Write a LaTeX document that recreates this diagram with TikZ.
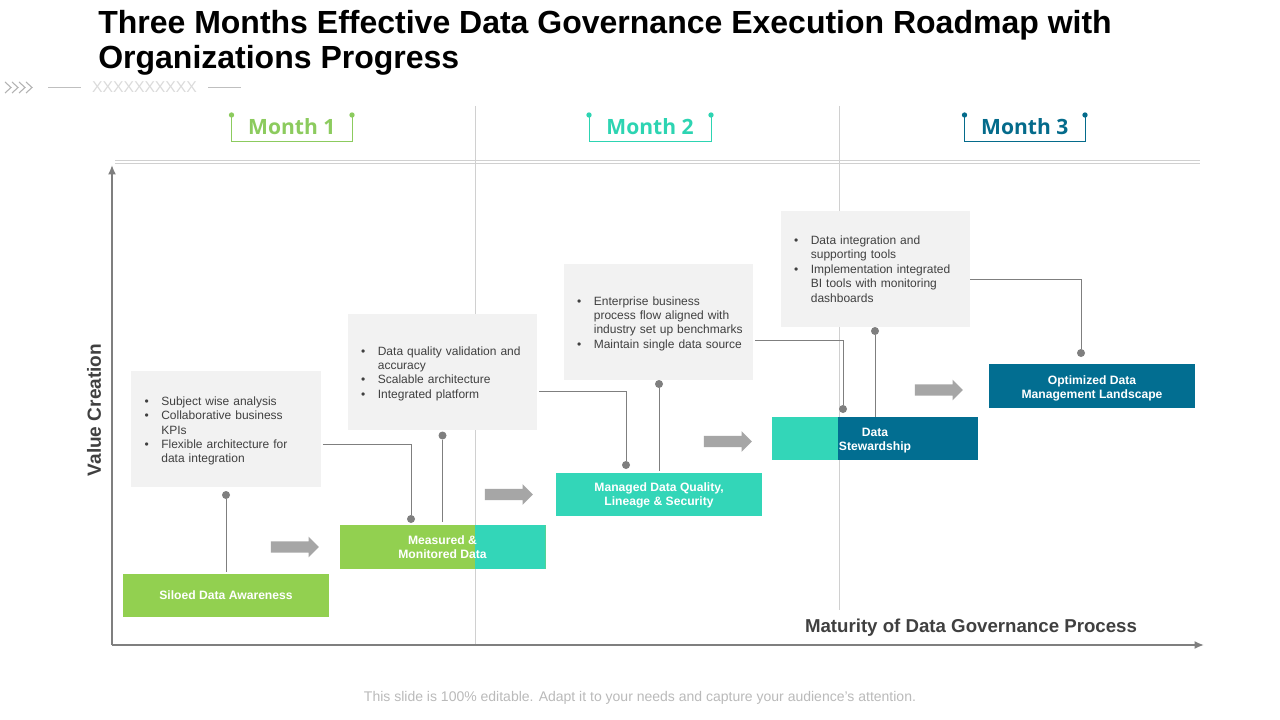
\documentclass[tikz,border=0pt]{standalone}
\usepackage{fontspec}
\setmainfont{Liberation Sans}
\newfontfamily\monthfont{Open Sans}
\usetikzlibrary{shapes.arrows,arrows.meta}
\definecolor{cgreen}{HTML}{92D050}
\definecolor{cteal}{HTML}{33D6B8}
\definecolor{cblue}{HTML}{026E91}
\definecolor{mgreen}{HTML}{8CCB5E}
\definecolor{mteal}{HTML}{2DD4B2}
\definecolor{mblue}{HTML}{046B8B}
\definecolor{axisc}{HTML}{7F7F7F}
\definecolor{gridc}{HTML}{D0D0D0}
\definecolor{panelc}{HTML}{F2F2F2}
\definecolor{txt}{HTML}{404040}
\newcommand\bl[1]{\mbox{\makebox[12.5pt][l]{•}#1}}
\newcommand\cl[1]{\mbox{\hspace*{12.5pt}#1}}
\newcommand\tp{\rule{0pt}{9pt}}
\tikzset{
  x=0.75pt,y=-0.75pt,
  panel/.style={fill=panelc,minimum width=142pt,minimum height=87pt,inner sep=0pt,text width=122pt,
    text=txt,font=\fontsize{9}{10.8}\selectfont,align=left},
  bar/.style={minimum width=154.5pt,minimum height=32.6pt,inner sep=0pt,text=white,
    font=\bfseries\fontsize{9.1}{10.6}\selectfont,align=center},
  dotn/.style={circle,fill=axisc,draw=none,minimum size=6pt,inner sep=0pt},
  conn/.style={draw=axisc,line width=0.75pt},
  grid line/.style={draw=gridc,line width=0.6pt},
  flow/.style={single arrow,fill=black!35,draw=none,minimum height=36pt,inner xsep=0pt,inner ysep=4.1pt,
    single arrow head extend=3.4pt,single arrow head indent=0pt},
  monthlabel/.style={font=\monthfont\bfseries\fontsize{15.8}{18}\selectfont,inner sep=0pt},
  axis/.style={draw=axisc,line width=1.9pt},
}
\begin{document}
\begin{tikzpicture}
\useasboundingbox (0,0) rectangle (1280,720);
\fill[white] (0,0) rectangle (1280,720);
% title
\node[anchor=north west,inner sep=0pt,align=left,font=\bfseries\fontsize{24}{26.3}\selectfont] (title) at (98,10)
  {Three Months Effective Data Governance Execution Roadmap with\\Organizations Progress};
% decor
\foreach \i in {0,1,2,3} \draw[black!30,line width=0.8pt] (5+7*\i,82) -- (11+7*\i,87.5) -- (5+7*\i,93);
\draw[black!25,line width=0.5pt] (48,87) -- (81,87);
\draw[black!25,line width=0.5pt] (208,87) -- (241,87);
\node[text=black!14,font=\fontsize{11.8}{13}\selectfont,inner sep=0pt] (xs) at (144.5,87) {XXXXXXXXXX};
% grid
\draw[grid line] (475,106) -- (475,645);
\draw[grid line] (839,106) -- (839,610);
\draw[grid line] (115,160) -- (1200,160);
\draw[grid line] (115,163) -- (1200,163);
% months
\foreach \l/\r/\c/\t in {231.5/352/mgreen/Month 1,589/711/mteal/Month 2,964.5/1085/mblue/Month 3}{
  \draw[\c,line width=0.6pt] (\l,115) -- (\l,141) -- (\r,141) -- (\r,115);
  \fill[\c] (\l,115) circle (2pt);
  \fill[\c] (\r,115) circle (2pt);
  \node[monthlabel,text=\c] at ({(\l+\r)/2},126.5) {\t};
}
% axes
\coordinate (origin) at (112,645);
\coordinate (ytop) at (112,165);
\coordinate (xend) at (1204,645);
\draw[axis,-{Latex[length=7pt,width=6pt]}] (origin) -- (ytop);
\draw[axis,-{Latex[length=7pt,width=6pt]}] (origin) -- (xend);
\node[rotate=90,text=txt,font=\bfseries\fontsize{14.3}{16}\selectfont,inner sep=0pt] (ylab) at (94,410) {Value Creation};
\node[text=txt,font=\bfseries\fontsize{14}{16}\selectfont,inner sep=0pt] (xlab) at (971,628) {Maturity of Data Governance Process};
% panels
\node[panel] (p1) at (226,429) {\rule{0pt}{9.5pt}\bl{Subject wise analysis}\\\bl{Collaborative business}\\\cl{KPIs}\\\bl{Flexible architecture for}\\\cl{data integration}};
\node[panel] (p2) at (442.5,372) {\tp\bl{Data quality validation and}\\\cl{accuracy}\\\bl{Scalable architecture}\\\bl{Integrated platform}};
\node[panel] (p3) at (658.5,322) {\tp\bl{Enterprise business}\\\cl{process flow aligned with}\\\cl{industry set up benchmarks}\\\bl{Maintain single data source}};
\node[panel] (p4) at (875.5,269) {\bl{Data integration and}\\\cl{supporting tools}\\\bl{Implementation integrated}\\\cl{BI tools with monitoring}\\\cl{dashboards}};
% bars
\node[bar,fill=cgreen] (b1) at (226,595.5) {Siloed Data Awareness};
\node[bar,fill=cgreen,path picture={\fill[cteal] ([xshift=24.4pt]path picture bounding box.north) rectangle (path picture bounding box.south east);}] (b2) at (442.5,547) {Measured \&\\Monitored Data};
\node[bar,fill=cteal] (b3) at (659,494.5) {\rule{0pt}{8pt}Managed Data Quality,\\Lineage \& Security};
\node[bar,fill=cblue,path picture={\fill[cteal] (path picture bounding box.south west) rectangle ([xshift=-27.75pt]path picture bounding box.north);}] (b4) at (875,438.5) {\rule{0pt}{9pt}Data\\Stewardship};
\node[bar,fill=cblue] (b5) at (1092,386) {\rule{0pt}{9.6pt}Optimized Data\\Management Landscape};
% dots
\node[dotn] (d1) at (226,495) {};
\node[dotn] (d2a) at (411,519) {};
\node[dotn] (d2b) at (442.5,435.5) {};
\node[dotn] (d3a) at (626,465) {};
\node[dotn] (d3b) at (659,384) {};
\node[dotn] (d4a) at (843,409) {};
\node[dotn] (d4b) at (875,331) {};
\node[dotn] (d5) at (1081,353) {};
% connectors
\draw[conn,shorten >=1.5pt] (d1) -- (b1.north);
\draw[conn,shorten >=2pt] (d2b) -- (b2.north);
\draw[conn,shorten >=1.5pt] (d3b) -- (b3.north);
\draw[conn] (d4b) -- (b4.north);
\draw[conn] ([yshift=-11.25pt,xshift=1.5pt]p1.east) -| (d2a);
\draw[conn] ([yshift=-14.25pt,xshift=1.5pt]p2.east) -| (d3a);
\draw[conn] ([yshift=-13.9pt,xshift=1.5pt]p3.east) -| (d4a);
\draw[conn] ([yshift=-7.5pt]p4.east) -| (d5);
% flow arrows
\node[flow] (f1) at (292,547) {};
\node[flow] (f2) at (506,494.5) {};
\node[flow] (f3) at (725,441.5) {};
\node[flow] (f4) at (936,390) {};
% footer
\node[text=black!27,font=\fontsize{10.5}{12}\selectfont,inner sep=0pt] (foot) at (640,698) {This slide is 100\% editable. Adapt it to your needs and capture your audience’s attention.};
\end{tikzpicture}
\end{document}
